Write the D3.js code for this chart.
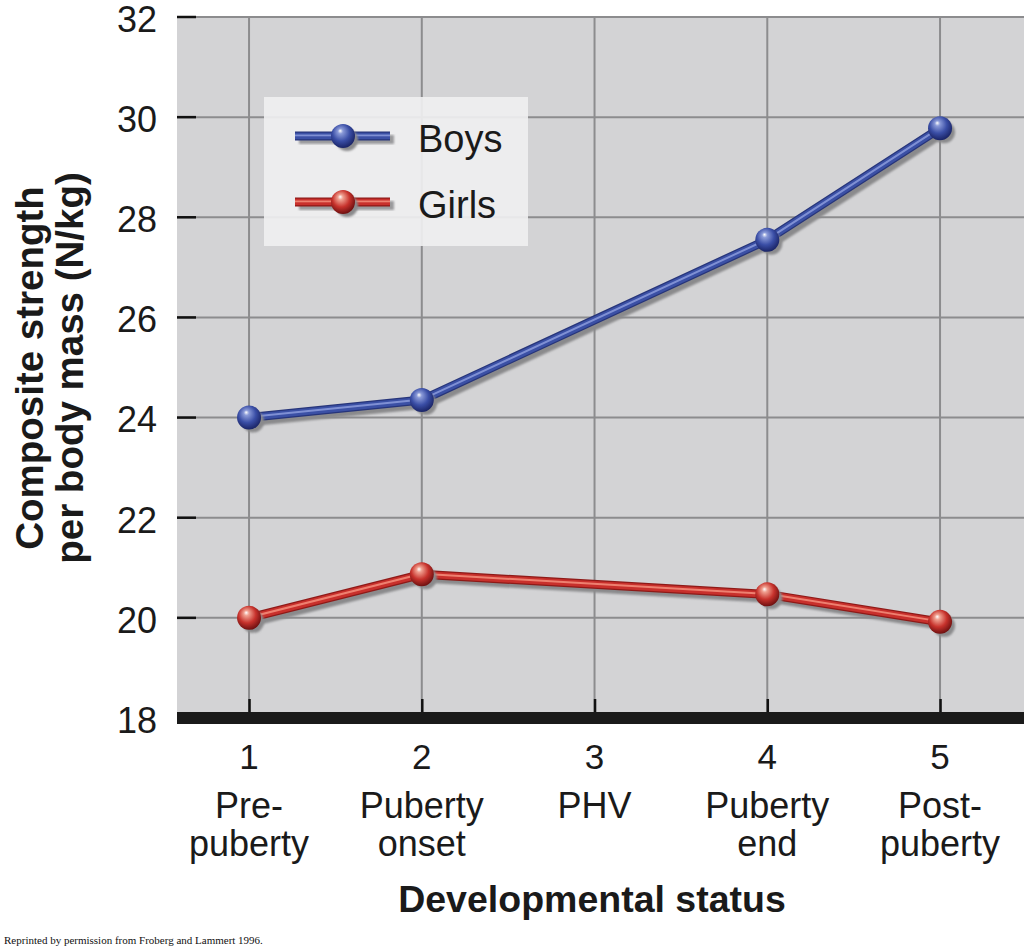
<!DOCTYPE html>
<html><head><meta charset="utf-8">
<script src="https://cdn.jsdelivr.net/npm/d3@7"></script>
<style>body{margin:0;background:#fff}svg{display:block}</style>
</head><body>
<script>
const stageNums = [1, 2, 3, 4, 5];
const stageLabels = [["Pre-", "puberty"], ["Puberty", "onset"], ["PHV"], ["Puberty", "end"], ["Post-", "puberty"]];
const boysX = [1, 2, 4, 5];
const boysY = [24.0, 24.35, 27.55, 29.78];
const girlsX = [1, 2, 4, 5];
const girlsY = [20.0, 20.87, 20.47, 19.92];
const yTicks = [18, 20, 22, 24, 26, 28, 30, 32];
const seriesNames = ["Boys", "Girls"];

const W = 1024, H = 949;
const svg = d3.select("body").append("svg").attr("width", W).attr("height", H);
const font = "Liberation Sans, Arial, Helvetica, sans-serif";

const x = d3.scaleLinear().domain([0.583, 5.486]).range([177, 1024]);
const y = d3.scaleLinear().domain([18, 32]).range([718, 17]);

const defs = svg.append("defs");
function ballGrad(id, light, mid, dark) {
  const g = defs.append("radialGradient").attr("id", id).attr("cx", "45%").attr("cy", "40%").attr("r", "60%").attr("fx", "38%").attr("fy", "28%");
  g.append("stop").attr("offset", "0%").attr("stop-color", "#ffffff");
  g.append("stop").attr("offset", "18%").attr("stop-color", light);
  g.append("stop").attr("offset", "60%").attr("stop-color", mid);
  g.append("stop").attr("offset", "100%").attr("stop-color", dark);
}
ballGrad("gBlue", "#8a9ad8", "#3a4ea6", "#1a2466");
ballGrad("gRed", "#f0a090", "#c7322c", "#6e1010");
defs.append("filter").attr("id", "blur").append("feGaussianBlur").attr("stdDeviation", 1.2);

// plot background
svg.append("rect").attr("x", 177).attr("y", 17).attr("width", W - 177).attr("height", 718 - 17).attr("fill", "#d3d3d5");

// grid
svg.append("g").selectAll("line.h").data(yTicks.filter(d => d > 18)).join("line")
  .attr("x1", 177).attr("x2", W).attr("y1", d => y(d)).attr("y2", d => y(d))
  .attr("stroke", "#8c8c8e").attr("stroke-width", 2);
svg.append("g").selectAll("line.v").data(stageNums).join("line")
  .attr("x1", d => x(d)).attr("x2", d => x(d)).attr("y1", 17).attr("y2", 718)
  .attr("stroke", "#8c8c8e").attr("stroke-width", 2);

// y axis
const yAxis = svg.append("g").attr("transform", "translate(177,0)")
  .call(d3.axisLeft(y).tickValues(yTicks).tickSize(0).tickPadding(20));
yAxis.select(".domain").remove();
yAxis.selectAll("text").attr("font-family", font).attr("font-size", 36).attr("fill", "#1a1a1a").attr("dy", "0.4em");
svg.append("g").selectAll("line").data(yTicks.filter(d => d > 18)).join("line")
  .attr("x1", 177).attr("x2", 196).attr("y1", d => y(d)).attr("y2", d => y(d))
  .attr("stroke", "#111").attr("stroke-width", 2.5);

// x axis
svg.append("rect").attr("x", 177).attr("y", 712).attr("width", W - 177).attr("height", 12).attr("fill", "#1a1a1a");
const xAxis = svg.append("g").attr("transform", "translate(0,712)")
  .call(d3.axisTop(x).tickValues(stageNums).tickSize(13).tickFormat(""));
xAxis.select(".domain").remove();
xAxis.selectAll("line").attr("stroke", "#111").attr("stroke-width", 2.5);

const xl = svg.append("g").selectAll("g").data(stageNums).join("g");
xl.append("text").attr("x", d => x(d)).attr("y", 769).attr("text-anchor", "middle")
  .attr("font-family", font).attr("font-size", 35).attr("fill", "#1a1a1a").text(d => d);
xl.each(function(d, i) {
  const g = d3.select(this);
  stageLabels[i].forEach((s, j) => {
    g.append("text").attr("x", x(d)).attr("y", 818 + j * 38).attr("text-anchor", "middle")
      .attr("font-family", font).attr("font-size", 36).attr("fill", "#1a1a1a").text(s);
  });
});

svg.append("text").attr("x", 592).attr("y", 912).attr("text-anchor", "middle")
  .attr("font-family", font).attr("font-weight", "bold").attr("font-size", 37.5).attr("fill", "#1a1a1a")
  .text("Developmental status");

const yl = svg.append("text").attr("transform", "translate(0,368) rotate(-90)").attr("text-anchor", "middle")
  .attr("font-family", font).attr("font-weight", "bold").attr("font-size", 38.5).attr("fill", "#1a1a1a");
yl.append("tspan").attr("x", 0).attr("y", 43).text("Composite strength");
yl.append("tspan").attr("x", 0).attr("y", 83).text("per body mass (N/kg)");

svg.append("text").attr("x", 4).attr("y", 944).attr("font-family", "Liberation Serif, Times New Roman, serif")
  .attr("font-size", 11).attr("fill", "#111").text("Reprinted by permission from Froberg and Lammert 1996.");

// series
function drawSeries(xs, ys, base, dark, light, grad) {
  const pts = xs.map((d, i) => [x(d), y(ys[i])]);
  const line = d3.line();
  const g = svg.append("g");
  g.append("path").attr("d", line(pts)).attr("transform", "translate(4,4)").attr("fill", "none")
    .attr("stroke", "#8a8a8c").attr("stroke-width", 9).attr("filter", "url(#blur)");
  g.append("path").attr("d", line(pts)).attr("fill", "none").attr("stroke", dark).attr("stroke-width", 9).attr("stroke-linejoin", "round");
  g.append("path").attr("d", line(pts)).attr("fill", "none").attr("stroke", base).attr("stroke-width", 6.5).attr("stroke-linejoin", "round");
  g.append("path").attr("d", line(pts)).attr("transform", "translate(0,-0.5)").attr("fill", "none").attr("stroke", light).attr("stroke-width", 2).attr("stroke-linejoin", "round");
  g.selectAll("circle.s").data(pts).join("circle").attr("cx", d => d[0] + 4).attr("cy", d => d[1] + 4).attr("r", 11)
    .attr("fill", "#8a8a8c").attr("filter", "url(#blur)");
  g.selectAll("circle.b").data(pts).join("circle").attr("cx", d => d[0]).attr("cy", d => d[1]).attr("r", 12)
    .attr("fill", `url(#${grad})`);
}
drawSeries(boysX, boysY, "#3b50a5", "#27357a", "#7f90d4", "gBlue");
drawSeries(girlsX, girlsY, "#c8302c", "#8e1a18", "#ee8070", "gRed");

// legend
const lg = svg.append("g");
lg.append("rect").attr("x", 264).attr("y", 97).attr("width", 264).attr("height", 149).attr("fill", "#efeff0").attr("opacity", 0.92);
const legendItems = [
  {name: seriesNames[0], base: "#3b50a5", dark: "#27357a", light: "#7f90d4", grad: "gBlue", cy: 136, ty: 152},
  {name: seriesNames[1], base: "#c8302c", dark: "#8e1a18", light: "#ee8070", grad: "gRed", cy: 202, ty: 218}
];
legendItems.forEach(it => {
  lg.append("rect").attr("x", 299).attr("y", it.cy - 1).attr("width", 95).attr("height", 9).attr("fill", "#9a9a9c").attr("filter", "url(#blur)");
  lg.append("rect").attr("x", 295).attr("y", it.cy - 4.5).attr("width", 95).attr("height", 9).attr("fill", it.dark);
  lg.append("rect").attr("x", 295).attr("y", it.cy - 3.3).attr("width", 95).attr("height", 6.5).attr("fill", it.base);
  lg.append("rect").attr("x", 295).attr("y", it.cy - 1.5).attr("width", 95).attr("height", 1.8).attr("fill", it.light);
  lg.append("circle").attr("cx", 347).attr("cy", it.cy + 4).attr("r", 11).attr("fill", "#8a8a8c").attr("filter", "url(#blur)");
  lg.append("circle").attr("cx", 343).attr("cy", it.cy).attr("r", 12).attr("fill", `url(#${it.grad})`);
  lg.append("text").attr("x", 418).attr("y", it.ty).attr("font-family", font).attr("font-size", 38).attr("fill", "#1a1a1a").text(it.name);
});
</script>
</body></html>
